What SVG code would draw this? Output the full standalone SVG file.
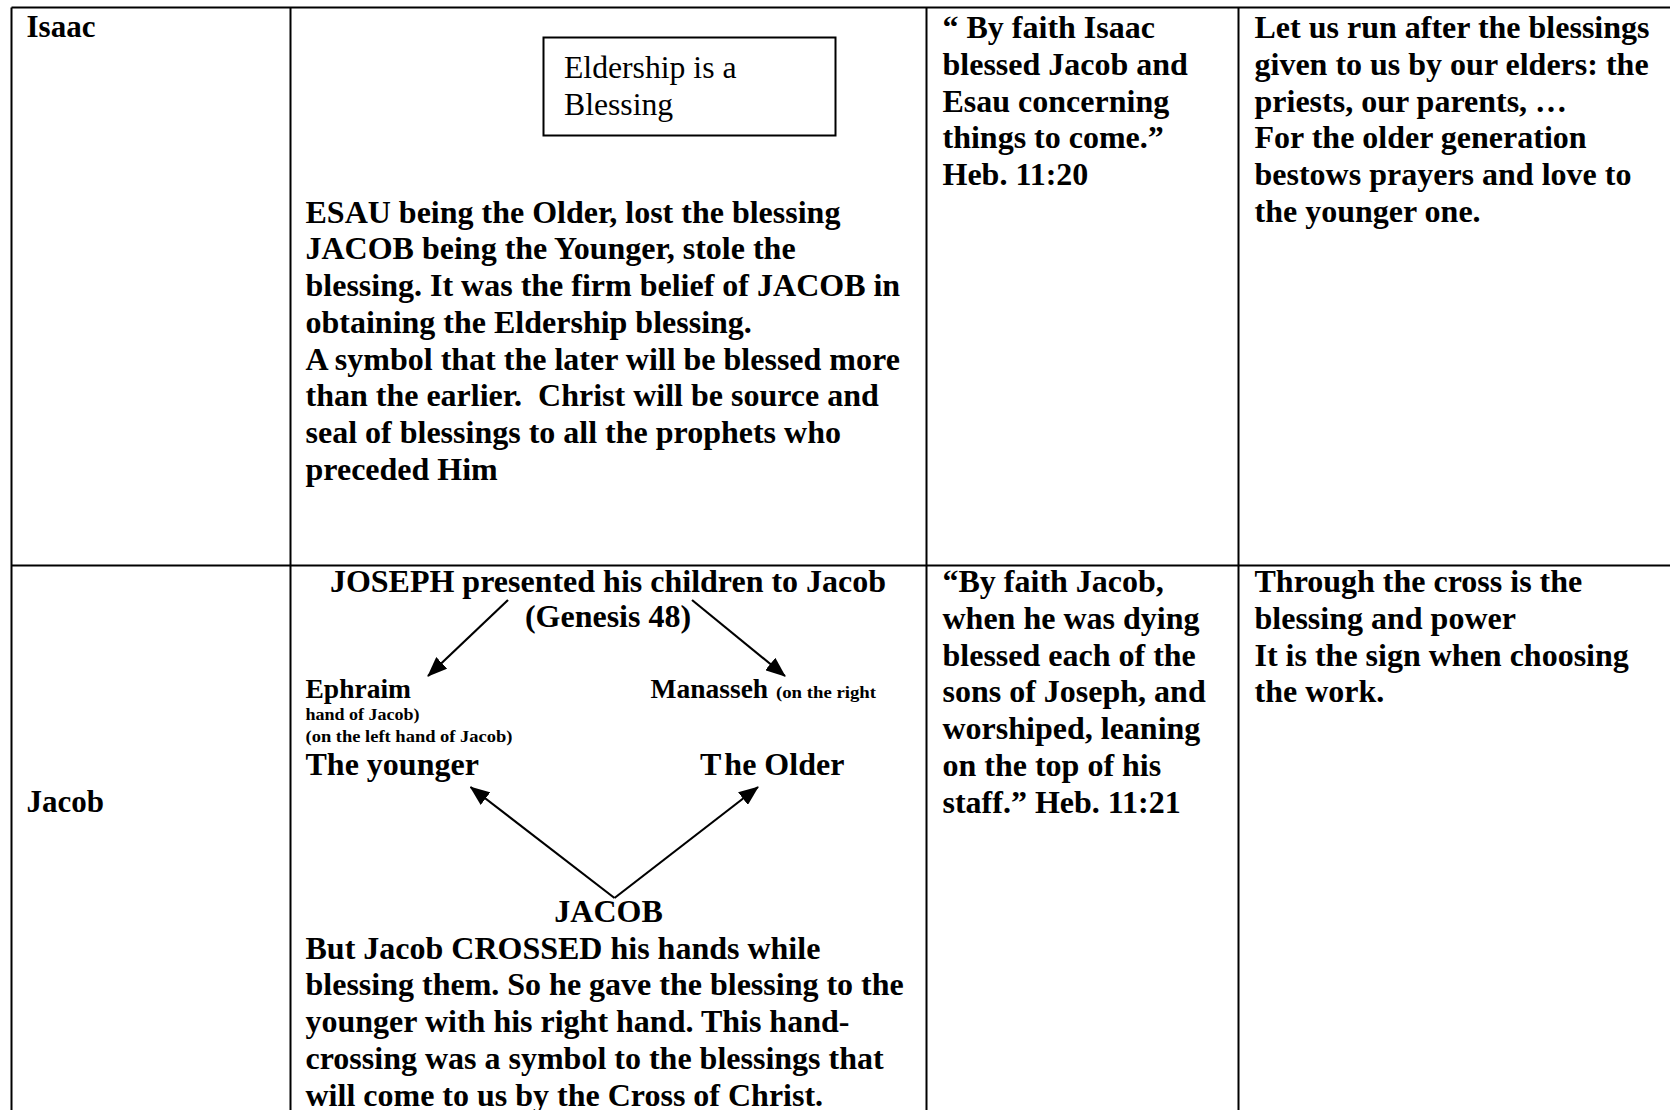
<svg xmlns="http://www.w3.org/2000/svg" width="1670" height="1110" viewBox="0 0 1670 1110">
<style>
.grid{stroke:#000;stroke-width:2;fill:none}
.t{font-family:"Liberation Serif","Times New Roman",serif;font-weight:bold;font-size:32px;fill:#000}
.lbl{font-family:"Liberation Serif","Times New Roman",serif;font-weight:bold;font-size:31px;fill:#000}
.reg{font-family:"Liberation Serif","Times New Roman",serif;font-size:31.7px;fill:#000}
.mid{font-size:27.5px}
.sm{font-size:17px}
.c{text-anchor:middle}
.arr{stroke:#000;stroke-width:2.2;fill:none}
</style>
<defs>
<marker id="ah" viewBox="0 0 20 16" refX="19" refY="8" markerWidth="20" markerHeight="16" markerUnits="userSpaceOnUse" orient="auto">
<path d="M0,0 L20,8 L0,16 z" fill="#000"/>
</marker>
</defs>
<rect width="1670" height="1110" fill="#fff"/>
<g id="table" class="grid">
<line x1="11.5" y1="7.5" x2="1670" y2="7.5"/>
<line x1="11.5" y1="7.5" x2="11.5" y2="1110"/>
<line x1="290.5" y1="7.5" x2="290.5" y2="1110"/>
<line x1="926.5" y1="7.5" x2="926.5" y2="1110"/>
<line x1="1238.5" y1="7.5" x2="1238.5" y2="1110"/>
<line x1="11.5" y1="565.5" x2="1670" y2="565.5"/>
</g>
<g id="isaac-label"><text class="lbl" x="26.5" y="37">Isaac</text></g>
<g id="eldership-box">
<rect x="543.5" y="37.5" width="292" height="98" class="grid"/>
<text class="reg" x="564" y="78">Eldership is a</text>
<text class="reg" x="564" y="115">Blessing</text>
</g>
<g id="isaac-body" class="t">
<text x="305.5" y="222.6">ESAU being the Older, lost the blessing</text>
<text x="305.5" y="259.4">JACOB being the Younger, stole the</text>
<text x="305.5" y="296.1">blessing. It was the firm belief of JACOB in</text>
<text x="305.5" y="332.9">obtaining the Eldership blessing.</text>
<text x="305.5" y="369.6">A symbol that the later will be blessed more</text>
<text x="305.5" y="406.4" xml:space="preserve">than the earlier.  Christ will be source and</text>
<text x="305.5" y="443.1">seal of blessings to all the prophets who</text>
<text x="305.5" y="479.9">preceded Him</text>
</g>
<g id="isaac-verse" class="t">
<text x="942.5" y="38">“ By faith Isaac</text>
<text x="942.5" y="74.8">blessed Jacob and</text>
<text x="942.5" y="111.6">Esau concerning</text>
<text x="942.5" y="148.4">things to come.”</text>
<text x="942.5" y="185.2">Heb. 11:20</text>
</g>
<g id="isaac-lesson" class="t">
<text x="1254.5" y="38">Let us run after the blessings</text>
<text x="1254.5" y="74.8">given to us by our elders: the</text>
<text x="1254.5" y="111.6">priests, our parents, …</text>
<text x="1254.5" y="148.4">For the older generation</text>
<text x="1254.5" y="185.2">bestows prayers and love to</text>
<text x="1254.5" y="222">the younger one.</text>
</g>
<g id="jacob-label"><text class="lbl" x="26.5" y="811.5">Jacob</text></g>
<g id="joseph" class="t c">
<text x="608" y="592">JOSEPH presented his children to Jacob</text>
<text x="608" y="627">(Genesis 48)</text>
</g>
<g id="ephraim" class="t">
<text class="mid" x="305.5" y="697.5">Ephraim</text>
<text class="sm" x="305.5" y="720" textLength="114" lengthAdjust="spacingAndGlyphs">hand of Jacob)</text>
<text class="sm" x="305.5" y="742" textLength="207" lengthAdjust="spacingAndGlyphs">(on the left hand of Jacob)</text>
<text x="305.5" y="775">The younger</text>
</g>
<g id="manasseh" class="t">
<text class="mid" x="650.5" y="697.5">Manasseh</text>
<text class="sm" x="776" y="697.5" textLength="100" lengthAdjust="spacingAndGlyphs">(on the right</text>
<text x="700" y="775">T<tspan dx="3">he Older</tspan></text>
</g>
<g id="jacob-node" class="t c"><text x="608.5" y="922">JACOB</text></g>
<g id="jacob-body" class="t">
<text x="305.5" y="958.5">But Jacob CROSSED his hands while</text>
<text x="305.5" y="995.3">blessing them. So he gave the blessing to the</text>
<text x="305.5" y="1032">younger with his right hand. This hand-</text>
<text x="305.5" y="1068.8">crossing was a symbol to the blessings that</text>
<text x="305.5" y="1105.5">will come to us by the Cross of Christ.</text>
</g>
<g id="jacob-verse" class="t">
<text x="942.5" y="592">“By faith Jacob,</text>
<text x="942.5" y="628.8">when he was dying</text>
<text x="942.5" y="665.6">blessed each of the</text>
<text x="942.5" y="702.4">sons of Joseph, and</text>
<text x="942.5" y="739.2">worshiped, leaning</text>
<text x="942.5" y="776">on the top of his</text>
<text x="942.5" y="812.8">staff.” Heb. 11:21</text>
</g>
<g id="jacob-lesson" class="t">
<text x="1254.5" y="592">Through the cross is the</text>
<text x="1254.5" y="628.8">blessing and power</text>
<text x="1254.5" y="665.6">It is the sign when choosing</text>
<text x="1254.5" y="702.4">the work.</text>
</g>
<g id="connectors" class="arr">
<line x1="508" y1="600" x2="428" y2="676" marker-end="url(#ah)"/>
<line x1="692" y1="600" x2="785" y2="676" marker-end="url(#ah)"/>
<line x1="614.5" y1="898" x2="470.5" y2="787" marker-end="url(#ah)"/>
<line x1="614.5" y1="898" x2="758" y2="787" marker-end="url(#ah)"/>
</g>
</svg>
